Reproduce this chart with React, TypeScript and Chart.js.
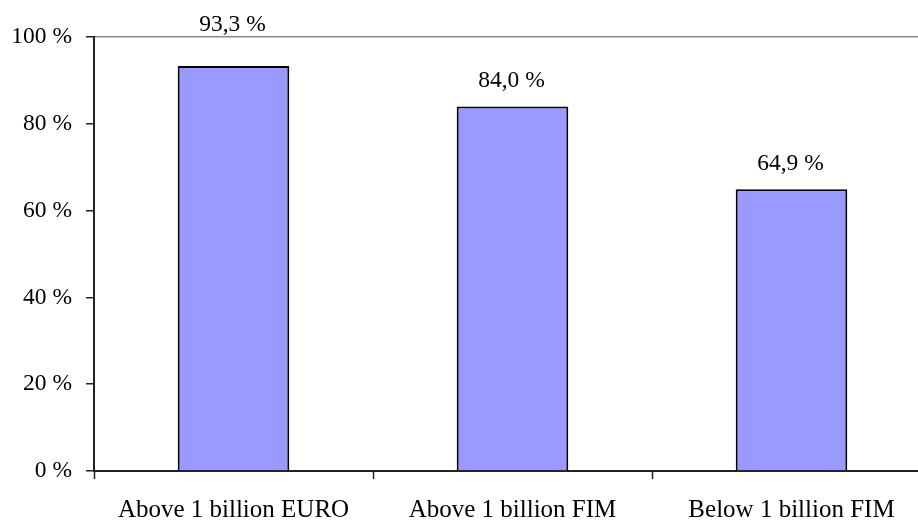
import React, { useEffect, useRef } from "react";
import { Chart, registerables } from "chart.js";

Chart.register(...registerables);

const categories = ["Above 1 billion EURO", "Above 1 billion FIM", "Below 1 billion FIM"];
const shares = [93.3, 84.0, 64.9];
const yTicks = [0, 20, 40, 60, 80, 100];

const FONT = '"Liberation Serif", "Times New Roman", serif';

const fmt = (v: number) => v.toFixed(1).replace(".", ",") + " %";

const valueLabels = {
  id: "valueLabels",
  afterDatasetsDraw(chart: any) {
    const ctx = chart.ctx;
    const meta = chart.getDatasetMeta(0);
    const area = chart.chartArea;
    ctx.save();
    ctx.font = `23.5px ${FONT}`;
    ctx.fillStyle = "#000";
    ctx.textAlign = "center";
    ctx.textBaseline = "alphabetic";
    meta.data.forEach((bar: any, i: number) => {
      let y = bar.y - 19;
      if (y - 16 < area.top + 2) y = area.top - 6;
      ctx.fillText(fmt(shares[i]), bar.x - 1, y);
    });
    ctx.restore();
  },
};

export default function App() {
  const ref = useRef<HTMLCanvasElement | null>(null);
  useEffect(() => {
    if (!ref.current) return;
    const chart = new Chart(ref.current, {
      type: "bar",
      data: {
        labels: categories,
        datasets: [
          {
            data: shares,
            backgroundColor: "#9999FF",
            borderColor: "#000",
            borderWidth: 2,
            categoryPercentage: 1,
            barPercentage: 0.4,
          },
        ],
      },
      options: {
        animation: false,
        responsive: false,
        devicePixelRatio: 1,
        layout: { padding: { top: 37, left: 0, right: 0, bottom: 0 } },
        plugins: {
          legend: { display: false },
          tooltip: { enabled: false },
        },
        scales: {
          x: {
            afterFit: (s: any) => {
              s.height = 49;
            },
            border: { color: "#222", width: 2 },
            grid: {
              offset: true,
              drawOnChartArea: false,
              drawTicks: true,
              tickLength: 8,
              color: "#000",
              tickColor: "#222",
              tickWidth: 1.5,
            },
            ticks: {
              color: "#000",
              font: { family: FONT, size: 25 },
              padding: 16,
              maxRotation: 0,
              autoSkip: false,
            },
          },
          y: {
            min: 0,
            max: 100,
            afterFit: (s: any) => {
              s.width = 94;
            },
            afterBuildTicks: (s: any) => {
              s.ticks = yTicks.map((v) => ({ value: v }));
            },
            border: { color: "#222", width: 2 },
            grid: {
              drawTicks: true,
              tickLength: 8,
              color: (c: any) => (c.tick && c.tick.value === 100 ? "#888888" : "rgba(0,0,0,0)"),
              lineWidth: 1.5,
              tickColor: "#222",
              tickWidth: 1.5,
            },
            ticks: {
              color: "#000",
              font: { family: FONT, size: 23.5 },
              padding: 14,
              callback: (v: any) => `${v} %`,
            },
          },
        },
      },
      plugins: [valueLabels],
    });
    return () => chart.destroy();
  }, []);
  return (
    <div
      style={{
        position: "fixed",
        left: 0,
        top: 0,
        width: 918,
        height: 520,
        overflow: "hidden",
        background: "#fff",
      }}
    >
      <canvas ref={ref} width={931} height={520} style={{ display: "block" }} />
    </div>
  );
}
